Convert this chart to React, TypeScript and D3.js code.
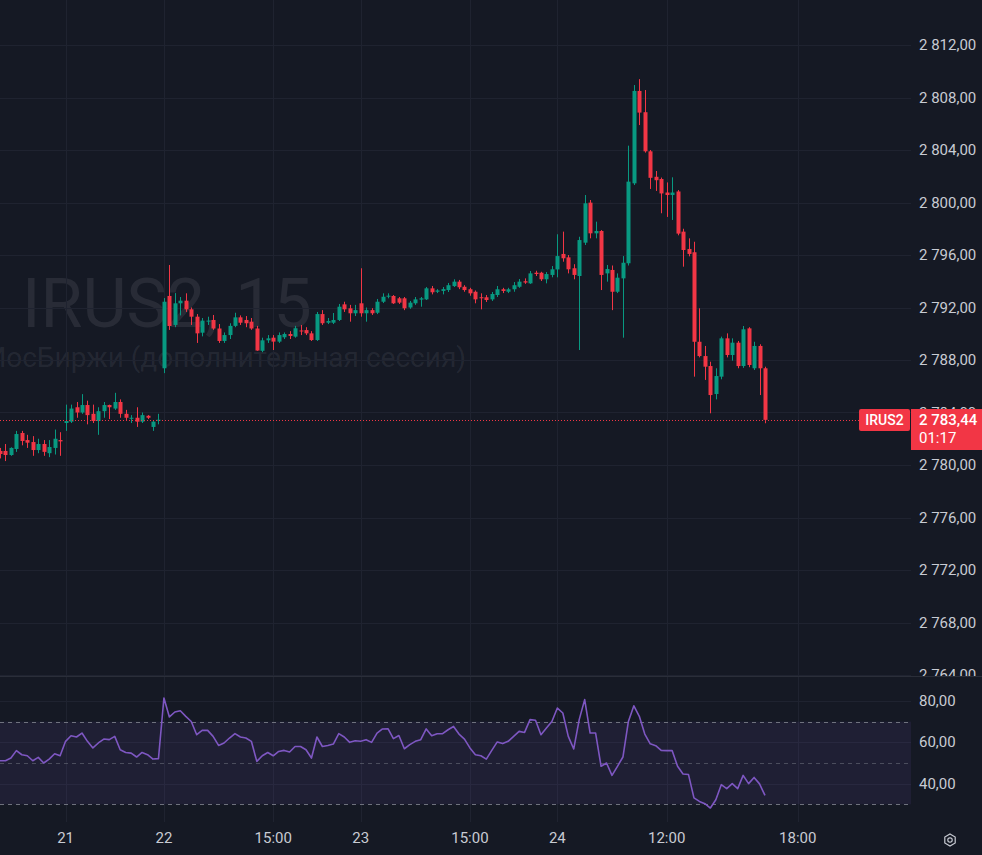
import React, { useEffect } from "react";
import * as d3 from "d3";

const opens = [
  2781.07, 2781.07, 2780.76, 2781.22, 2782.44, 2781.9, 2781.75, 2781.14, 2781.6, 2780.9,
  2781.3, 2781.9, 2783.2, 2783.3, 2784.4, 2784.0, 2784.57, 2783.9, 2783.35, 2784.1,
  2784.57, 2784.3, 2784.8, 2783.9, 2783.55, 2783.6, 2783.3, 2783.75, 2782.9, 2783.4,
  2787.37, 2792.88, 2790.67, 2792.32, 2792.52, 2791.86, 2791.3, 2790.08, 2790.95, 2791.05,
  2790.4, 2789.45, 2789.9, 2790.6, 2791.25, 2791.05, 2790.92, 2790.4, 2788.7, 2789.5,
  2789.7, 2789.4, 2789.73, 2789.98, 2789.78, 2790.25, 2790.28, 2790.03, 2789.52, 2791.5,
  2790.84, 2790.84, 2791.05, 2792.24, 2791.94, 2791.56, 2792.32, 2791.56, 2791.8, 2791.6,
  2792.44, 2792.85, 2792.88, 2792.7, 2792.7, 2792.0, 2792.32, 2792.6, 2792.62, 2793.46,
  2793.2, 2793.26, 2793.33, 2793.63, 2793.97, 2793.58, 2793.39, 2793.2, 2792.78, 2792.78,
  2792.62, 2792.95, 2793.39, 2793.2, 2793.39, 2793.58, 2794.0, 2793.84, 2794.65, 2794.65,
  2794.15, 2794.48, 2794.9, 2796.08, 2795.82, 2794.99, 2794.4, 2796.94, 2799.99, 2797.65,
  2797.83, 2794.6, 2794.86, 2793.2, 2794.22, 2795.37, 2801.46, 2808.5, 2806.88, 2803.9,
  2801.96, 2801.79, 2800.76, 2800.57, 2800.84, 2797.78, 2796.46, 2796.21, 2789.39, 2788.3,
  2787.54, 2785.41, 2786.73, 2789.65, 2788.38, 2789.32, 2787.54, 2790.41, 2787.37, 2789.07,
  2787.37,
];
const highs = [
  2781.3, 2781.6, 2781.35, 2782.6, 2782.6, 2782.3, 2782.2, 2782.0, 2781.9, 2781.9,
  2782.7, 2782.5, 2784.6, 2784.6, 2784.8, 2785.4, 2784.9, 2784.6, 2784.4, 2784.8,
  2784.6, 2785.5, 2785.0, 2784.2, 2783.8, 2784.4, 2784.0, 2783.8, 2783.4, 2783.9,
  2792.72, 2795.24, 2793.1, 2792.8, 2793.08, 2792.0, 2791.5, 2791.2, 2791.3, 2791.43,
  2790.74, 2790.1, 2790.8, 2791.6, 2791.4, 2791.35, 2791.2, 2790.6, 2789.7, 2789.9,
  2789.9, 2790.1, 2790.1, 2790.2, 2790.6, 2790.67, 2790.5, 2790.2, 2791.66, 2791.8,
  2791.2, 2791.58, 2792.27, 2792.44, 2792.2, 2792.2, 2794.99, 2792.0, 2791.95, 2792.65,
  2793.08, 2793.08, 2792.95, 2792.8, 2792.8, 2792.5, 2792.8, 2792.8, 2793.56, 2793.64,
  2793.4, 2793.56, 2793.87, 2794.15, 2794.1, 2793.7, 2793.5, 2793.3, 2793.08, 2792.95,
  2793.18, 2793.64, 2793.5, 2793.5, 2793.94, 2794.17, 2794.22, 2794.78, 2794.8, 2794.72,
  2794.7, 2795.16, 2797.58, 2797.78, 2796.0, 2795.3, 2797.39, 2800.57, 2800.19, 2798.54,
  2797.9, 2795.24, 2795.2, 2794.6, 2795.92, 2804.33, 2808.95, 2809.4, 2808.57, 2804.0,
  2802.4, 2801.9, 2801.53, 2801.92, 2800.95, 2798.0, 2797.27, 2797.01, 2791.94, 2789.07,
  2787.87, 2787.37, 2789.78, 2790.03, 2789.65, 2789.45, 2790.59, 2790.5, 2789.39, 2789.2,
  2787.49,
];
const lows = [
  2780.5, 2780.3, 2780.7, 2781.0, 2781.5, 2781.3, 2780.7, 2780.9, 2780.7, 2780.6,
  2780.8, 2780.7, 2782.6, 2783.2, 2783.6, 2783.9, 2783.1, 2783.2, 2782.3, 2783.6,
  2783.5, 2784.2, 2783.6, 2783.4, 2783.2, 2782.9, 2783.2, 2783.5, 2782.6, 2783.1,
  2787.0, 2790.29, 2790.5, 2791.4, 2791.66, 2790.67, 2789.3, 2789.8, 2790.67, 2790.3,
  2789.3, 2789.3, 2789.6, 2790.5, 2790.67, 2790.5, 2790.3, 2788.7, 2788.6, 2789.3,
  2788.76, 2789.3, 2789.6, 2789.6, 2789.7, 2789.9, 2789.9, 2789.45, 2789.45, 2790.67,
  2790.74, 2790.74, 2790.97, 2791.66, 2790.92, 2791.35, 2791.3, 2790.92, 2791.43, 2791.5,
  2792.34, 2792.7, 2792.27, 2792.27, 2791.8, 2791.9, 2792.2, 2792.06, 2792.57, 2793.0,
  2793.1, 2793.0, 2793.18, 2793.56, 2793.4, 2793.2, 2792.9, 2792.32, 2791.86, 2792.42,
  2792.5, 2792.8, 2793.1, 2793.1, 2793.2, 2793.5, 2793.8, 2793.8, 2794.4, 2794.02,
  2793.84, 2794.3, 2794.3, 2795.49, 2794.6, 2794.15, 2788.76, 2796.76, 2797.27, 2797.27,
  2793.33, 2793.97, 2791.8, 2793.1, 2789.7, 2795.2, 2801.33, 2805.9, 2803.8, 2801.03,
  2800.88, 2799.18, 2798.9, 2798.67, 2797.5, 2795.11, 2795.9, 2786.73, 2788.2, 2786.48,
  2783.94, 2785.0, 2786.53, 2788.2, 2787.95, 2787.37, 2787.4, 2787.45, 2787.24, 2785.33,
  2783.18,
];
const closes = [
  2780.84, 2780.76, 2781.3, 2782.36, 2781.83, 2781.7, 2781.14, 2781.6, 2781.0, 2781.37,
  2782.0, 2781.8, 2783.35, 2784.3, 2784.0, 2784.57, 2783.8, 2783.35, 2784.1, 2784.57,
  2784.4, 2784.8, 2783.9, 2783.6, 2783.6, 2783.3, 2783.8, 2783.6, 2783.3, 2783.45,
  2792.44, 2790.59, 2792.32, 2792.52, 2791.86, 2791.3, 2790.03, 2791.0, 2791.0, 2790.4,
  2789.45, 2789.9, 2790.6, 2791.25, 2790.84, 2790.8, 2790.4, 2788.72, 2789.5, 2789.65,
  2789.4, 2789.9, 2789.98, 2789.83, 2790.42, 2790.2, 2790.03, 2789.52, 2791.5, 2790.8,
  2790.97, 2791.05, 2792.06, 2791.86, 2791.56, 2791.8, 2791.56, 2791.8, 2791.56, 2792.44,
  2792.82, 2792.9, 2792.32, 2792.37, 2791.94, 2792.37, 2792.62, 2792.7, 2793.46, 2793.16,
  2793.3, 2793.4, 2793.7, 2793.97, 2793.54, 2793.33, 2793.08, 2792.62, 2792.72, 2792.57,
  2793.03, 2793.39, 2793.26, 2793.39, 2793.7, 2793.97, 2793.9, 2794.6, 2794.55, 2794.15,
  2794.55, 2794.91, 2795.92, 2795.75, 2794.91, 2794.48, 2797.14, 2799.94, 2797.65, 2797.83,
  2794.48, 2794.93, 2793.2, 2794.27, 2795.41, 2801.59, 2808.5, 2806.85, 2803.9, 2801.88,
  2801.7, 2800.69, 2800.57, 2800.76, 2797.63, 2796.38, 2796.08, 2789.39, 2788.3, 2787.49,
  2785.33, 2786.78, 2789.65, 2788.38, 2789.32, 2787.54, 2790.34, 2787.62, 2789.07, 2787.37,
  2783.44,
];
const rsiValues = [
  51.1, 51.1, 52.4, 56.0, 54.0, 53.5, 51.1, 52.7, 50.0, 51.9,
  54.5, 53.5, 60.5, 63.2, 62.6, 64.5, 60.5, 57.3, 59.7, 61.6,
  61.3, 62.9, 56.4, 55.1, 54.8, 52.9, 55.1, 54.0, 51.9, 52.1,
  81.5, 72.3, 74.7, 75.3, 72.6, 70.1, 63.7, 65.8, 65.8, 62.9,
  58.5, 59.7, 62.1, 64.2, 62.6, 62.1, 60.5, 50.8, 53.5, 55.1,
  53.5, 55.6, 56.1, 55.3, 58.0, 58.0, 56.4, 52.4, 62.6, 58.0,
  58.5, 59.2, 64.2, 62.6, 60.0, 60.8, 60.5, 61.3, 60.0, 64.5,
  66.5, 66.6, 61.8, 63.3, 56.9, 58.9, 60.5, 61.3, 66.5, 63.2,
  64.2, 64.2, 66.1, 67.7, 64.0, 61.6, 57.3, 54.0, 53.5, 51.9,
  56.1, 60.2, 59.4, 60.5, 62.9, 65.3, 64.8, 71.0, 70.7, 63.7,
  66.9, 70.1, 76.6, 74.2, 62.9, 56.8, 71.0, 80.7, 64.5, 64.5,
  48.4, 50.0, 44.0, 48.4, 52.9, 70.1, 77.7, 72.6, 64.0, 59.3,
  58.4, 56.1, 56.0, 56.0, 48.4, 44.7, 44.4, 33.1, 31.4, 30.3,
  28.2, 32.2, 39.5, 37.6, 40.0, 37.6, 44.0, 40.0, 43.0, 39.9,
  34.3,
];

const timeTickIndex = [12, 30, 50, 66, 86, 102, 122, 146];
const timeTickLabels = ["21", "22", "15:00", "23", "15:00", "24", "12:00", "18:00"];
const priceTicks = [2764, 2768, 2772, 2776, 2780, 2784, 2788, 2792, 2796, 2800, 2804, 2808, 2812];
const rsiTicks = [80, 60, 40];
const rsiLevels = [70, 50, 30];
const lastPrice = 2783.44;
const symbolName = "IRUS2";
const countdown = "01:17";
const watermarkTitle = "IRUS2, 15";
const watermarkSubtitle = "МосБиржи (дополнительная сессия)";

const W = 982;
const H = 855;
const PLOT_R = 911;
const PANE_SEP = 676;
const RSI_BOTTOM = 822;
const BG = "#151924";
const GRID = "#1f2330";
const UP = "#089981";
const DOWN = "#F23645";
const TEXT = "#c8cbd3";
const FONT = "Roboto, 'Noto Sans', sans-serif";

const locale = d3.formatLocale({ decimal: ",", thousands: " ", grouping: [3], currency: ["", ""] });
const fmt = locale.format(",.2f");

export default function App() {
  useEffect(() => {
    document.body.style.margin = "0";
    document.body.style.background = BG;
  }, []);

  const x = d3.scaleLinear().domain([0, 140]).range([0, 765]);
  const y = d3.scaleLinear().domain([2764, 2812]).range([675, 45]);
  const yr = d3.scaleLinear().domain([30, 70]).range([804.3, 721.7]);

  const candles = opens.map((o, i) => ({ i, o, h: highs[i], l: lows[i], c: closes[i] }));
  const rsiLine = d3
    .line<number>()
    .x((_, i) => x(i))
    .y((d) => yr(d))(rsiValues) as string;

  const bodyW = 4;
  const lastY = Math.round(y(lastPrice));

  return (
    <svg
      width={W}
      height={H}
      style={{ position: "absolute", left: 0, top: 0, display: "block", background: BG }}
      fontFamily={FONT}
    >
      <defs>
        <clipPath id="pricePane">
          <rect x={0} y={0} width={PLOT_R} height={PANE_SEP} />
        </clipPath>
        <clipPath id="rsiPane">
          <rect x={0} y={PANE_SEP + 1} width={PLOT_R} height={RSI_BOTTOM - PANE_SEP - 1} />
        </clipPath>
        <clipPath id="priceAxis">
          <rect x={PLOT_R} y={0} width={W - PLOT_R} height={PANE_SEP} />
        </clipPath>
      </defs>
      <rect x={0} y={0} width={W} height={H} fill={BG} />

      {/* watermark */}
      <g clipPath="url(#pricePane)">
        <text x={22} y={327} fontSize={68} fill="rgba(178,181,190,0.12)">
          {watermarkTitle}
        </text>
        <text x={466} y={367} fontSize={28} textAnchor="end" fill="rgba(178,181,190,0.11)">
          {watermarkSubtitle}
        </text>
      </g>

      {/* grid: price pane */}
      <g stroke={GRID} strokeWidth={1}>
        {priceTicks.map((p) => (
          <line key={"pg" + p} x1={0} x2={PLOT_R} y1={Math.round(y(p)) + 0.5} y2={Math.round(y(p)) + 0.5} />
        ))}
        {rsiTicks.map((r) => (
          <line key={"rg" + r} x1={0} x2={PLOT_R} y1={Math.round(yr(r)) + 0.5} y2={Math.round(yr(r)) + 0.5} />
        ))}
        {timeTickIndex.map((t, k) => (
          <line key={"tg" + k} x1={Math.round(x(t)) + 0.5} x2={Math.round(x(t)) + 0.5} y1={0} y2={RSI_BOTTOM} />
        ))}
      </g>

      {/* candles */}
      <g clipPath="url(#pricePane)">
        {candles.map((d) => {
          const cx = Math.round(x(d.i));
          const up = d.c >= d.o;
          const col = up ? UP : DOWN;
          const top = y(Math.max(d.o, d.c));
          const bot = y(Math.min(d.o, d.c));
          return (
            <g key={d.i}>
              <line x1={cx + 0.5} x2={cx + 0.5} y1={y(d.h)} y2={y(d.l)} stroke={col} strokeWidth={1} />
              <rect x={cx + 0.5 - bodyW / 2} y={top} width={bodyW} height={Math.max(1, bot - top)} fill={col} />
            </g>
          );
        })}
      </g>

      {/* last price line */}
      <line
        x1={0}
        x2={PLOT_R}
        y1={lastY + 0.5}
        y2={lastY + 0.5}
        stroke={DOWN}
        strokeWidth={1}
        strokeDasharray="1 2"
      />

      {/* price axis labels */}
      <g clipPath="url(#priceAxis)" fontSize={15} fill={TEXT}>
        {priceTicks.map((p) => (
          <text key={"pl" + p} x={919} y={y(p)} dominantBaseline="central">
            {fmt(p)}
          </text>
        ))}
      </g>

      {/* last price labels */}
      <rect x={859} y={lastY - 11} width={51} height={22} rx={2} fill={DOWN} />
      <text x={884.5} y={lastY} fontSize={14} fontWeight={500} fill="#ffffff" textAnchor="middle" dominantBaseline="central">
        {symbolName}
      </text>
      <rect x={PLOT_R} y={lastY - 11} width={W - PLOT_R} height={41} fill={DOWN} />
      <text x={919} y={lastY} fontSize={15} fontWeight={500} fill="#ffffff" dominantBaseline="central">
        {fmt(lastPrice)}
      </text>
      <text x={919} y={lastY + 18} fontSize={15} fill="#ffffff" dominantBaseline="central">
        {countdown}
      </text>

      {/* pane separator */}
      <line x1={0} x2={W} y1={PANE_SEP + 0.5} y2={PANE_SEP + 0.5} stroke="#2a2e39" strokeWidth={1} />

      {/* RSI pane */}
      <g clipPath="url(#rsiPane)">
        <rect
          x={0}
          y={yr(70)}
          width={PLOT_R}
          height={yr(30) - yr(70)}
          fill="rgba(126,87,194,0.1)"
        />
        {rsiLevels.map((r) => (
          <line
            key={"lv" + r}
            x1={0}
            x2={PLOT_R}
            y1={Math.round(yr(r)) + 0.5}
            y2={Math.round(yr(r)) + 0.5}
            stroke="#787b86"
            strokeOpacity={r === 50 ? 0.5 : 0.9}
            strokeWidth={1}
            strokeDasharray="4 4"
          />
        ))}
        <path d={rsiLine} fill="none" stroke="#7E57C2" strokeWidth={1.6} strokeLinejoin="round" />
      </g>
      <g fontSize={15} fill={TEXT}>
        {rsiTicks.map((r) => (
          <text key={"rl" + r} x={919} y={yr(r)} dominantBaseline="central">
            {fmt(r)}
          </text>
        ))}
      </g>

      {/* time axis */}
      <g fontSize={15} fill={TEXT} textAnchor="middle">
        {timeTickIndex.map((t, k) => (
          <text key={"tl" + k} x={x(t)} y={838} dominantBaseline="central">
            {timeTickLabels[k]}
          </text>
        ))}
      </g>

      {/* settings icon */}
      <g transform="translate(950,840)" fill="none" stroke={TEXT} strokeWidth={1.2}>
        <path d="M0,-6 L5.2,-3 L5.2,3 L0,6 L-5.2,3 L-5.2,-3 Z" />
        <circle r={2.2} />
      </g>
    </svg>
  );
}
